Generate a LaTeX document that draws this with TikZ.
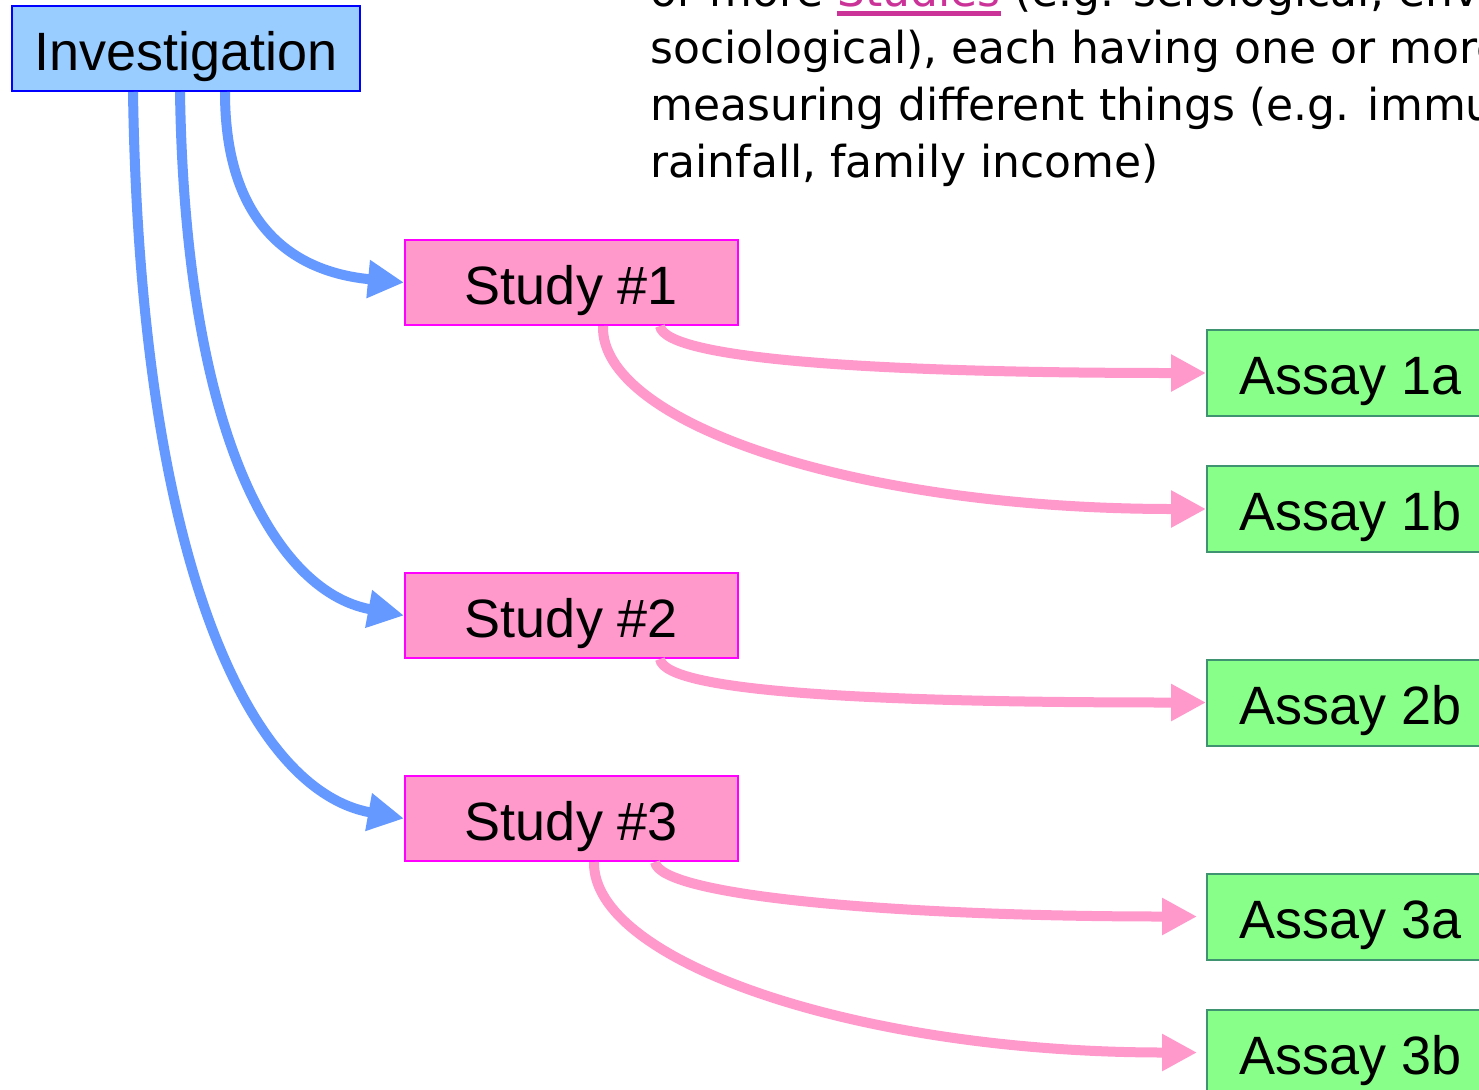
\documentclass[tikz,border=0pt]{standalone}
\usepackage{fontspec}
\setmainfont{Liberation Sans}
\newfontfamily\notefont{DejaVu Sans}
\usetikzlibrary{arrows.meta}
\definecolor{invfill}{HTML}{99CCFF}
\definecolor{invdraw}{HTML}{0000FF}
\definecolor{studyfill}{HTML}{FF99CC}
\definecolor{studydraw}{HTML}{FF00FF}
\definecolor{assayfill}{HTML}{88FF88}
\definecolor{assaydraw}{HTML}{3F9370}
\definecolor{bluearrow}{HTML}{6699FF}
\definecolor{pinkarrow}{HTML}{FF99CC}
\definecolor{studiesul}{HTML}{CC3399}
\newcommand{\thickul}[1]{\setbox0\hbox{#1}\rlap{\rule[-5pt]{\wd0}{2.5pt}}\box0}

\begin{document}
\begin{tikzpicture}[x=0.5pt, y=-0.5pt,
  box/.style={draw, line width=1pt, inner sep=0pt, text height=21.5pt, text depth=0pt, font=\fontsize{27}{32}\selectfont},
  inv/.style={box, fill=invfill, draw=invdraw, minimum width=174pt, minimum height=42.5pt},
  study/.style={box, fill=studyfill, draw=studydraw, minimum width=166.5pt, minimum height=42.5pt},
  assay/.style={box, fill=assayfill, draw=assaydraw, minimum width=143.5pt, minimum height=43pt},
  note/.style={anchor=base west, inner sep=0pt, font=\notefont\fontsize{22}{28.5}\selectfont},
  blueline/.style={draw=bluearrow, line width=5pt, -{Triangle[length=18pt,width=18pt]}},
  pinkline/.style={draw=pinkarrow, line width=5pt, -{Triangle[length=17.5pt,width=17.5pt]}}]
\useasboundingbox (0,0) rectangle (1479,1089);
\fill[white] (0,0) rectangle (1479,1089);
\clip (0,0) rectangle (1479,1089);
\node[note] (L1) at (650,6) {or more \textcolor{studiesul}{\thickul{Studies}} (e.g. serological, envi};
\node[note] (L2) at (650,63) {sociological), each having one or more};
\node[note] (L3) at (650,120) {measuring different things (e.g. immu};
\node[note] (L4) at (650,177) {rainfall, family income)};
\node[inv] (Inv) at (186,48.5) {Investigation};
\node[study] (S1) at (571.5,282.5) {Study \#1};
\node[study] (S2) at (571.5,615.5) {Study \#2};
\node[study] (S3) at (571.5,818.5) {Study \#3};
\node[assay] (A1a) at (1350.5,373) {Assay 1a};
\node[assay] (A1b) at (1350.5,509) {Assay 1b};
\node[assay] (A2b) at (1350.5,702.5) {Assay 2b};
\node[assay] (A3a) at (1350.5,916.5) {Assay 3a};
\node[assay] (A3b) at (1350.5,1052.5) {Assay 3b};
\draw[blueline] ([xshift=19.5pt]Inv.south) .. controls +(0,139) and +(-105,-10) .. (S1.west);
\draw[blueline] ([xshift=-3pt]Inv.south) .. controls +(5,329) and +(-135,-25) .. (S2.west);
\draw[blueline] ([xshift=-26.5pt]Inv.south) .. controls +(7,469) and +(-155,-28) .. (S3.west);
\draw[pinkline] ([xshift=44.25pt]S1.south) .. controls +(5,35) and +(-307,0) .. (A1a.west);
\draw[pinkline] ([xshift=15.75pt]S1.south) .. controls +(-3,95) and +(-357,0) .. (A1b.west);
\draw[pinkline] ([xshift=44.25pt]S2.south) .. controls +(5,35) and +(-307,0) .. (A2b.west);
\draw[pinkline, shorten >=4.5pt] ([xshift=41.75pt]S3.south) .. controls +(5,35) and +(-300,0) .. (A3a.west);
\draw[pinkline, shorten >=4.5pt] ([xshift=11.25pt]S3.south) .. controls +(-2,99) and +(-350,0) .. (A3b.west);
\end{tikzpicture}
\end{document}
